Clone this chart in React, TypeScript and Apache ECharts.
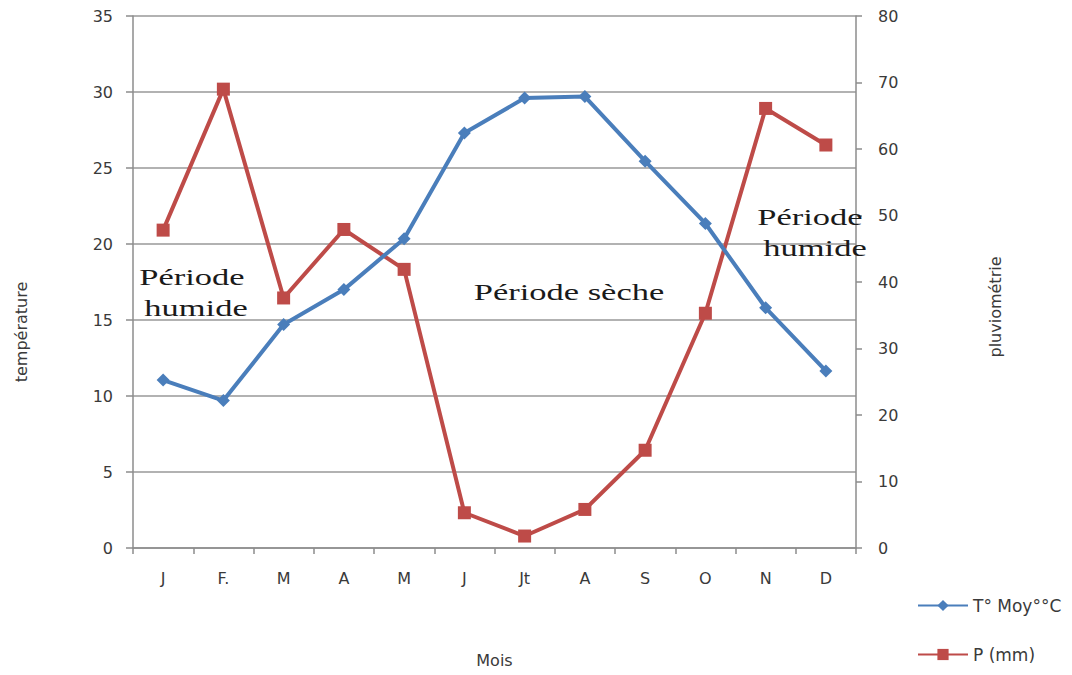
import React, { useEffect, useRef } from "react";
import * as echarts from "echarts";

const months = ["J", "F.", "M", "A", "M", "J", "Jt", "A", "S", "O", "N", "D"];
const temperature = [11.05, 9.7, 14.7, 17.0, 20.35, 27.3, 29.6, 29.7, 25.45, 21.35, 15.8, 11.65];
const precipitation = [47.8, 69.0, 37.6, 47.9, 41.9, 5.3, 1.8, 5.8, 14.7, 35.3, 66.1, 60.6];
const tempTicks = { min: 0, max: 35, interval: 5 };
const rainTicks = { min: 0, max: 80, interval: 10 };

const BLUE = "#4a7ebb";
const RED = "#be4b48";
const AXIS = "#8c8c8c";
const LABEL = "#3a3a3a";
const SANS = "'DejaVu Sans', 'Liberation Sans', sans-serif";
const SERIF = "'Liberation Serif', 'DejaVu Serif', serif";

export default function App() {
  const ref = useRef<HTMLDivElement>(null);
  useEffect(() => {
    if (!ref.current) return;
    const chart = echarts.init(ref.current, undefined, { renderer: "svg" });
    const annot = (x: number, y: number, text: string) => ({
      type: "text",
      x,
      y,
      z: 10,
      scaleX: 1.5,
      style: {
        text,
        fontSize: 23,
        fontFamily: SERIF,
        fill: "#1a1a1a",
        align: "center",
        verticalAlign: "middle",
      },
    });
    chart.setOption({
      animation: false,
      backgroundColor: "#ffffff",
      grid: { left: 133, right: 216, top: 16, bottom: 127, containLabel: false },
      legend: {
        orient: "vertical",
        left: 912,
        top: 592,
        itemGap: 32,
        itemWidth: 50,
        itemHeight: 14,
        textStyle: { fontFamily: SANS, fontSize: 17, color: LABEL },
        data: ["T° Moy°°C", "P (mm)"],
      },
      xAxis: {
        type: "category",
        data: months,
        boundaryGap: true,
        name: "Mois",
        nameLocation: "middle",
        nameGap: 104,
        nameTextStyle: { fontFamily: SANS, fontSize: 16, color: LABEL },
        axisLine: { lineStyle: { color: AXIS, width: 1.5 } },
        axisTick: { show: true, length: 6, lineStyle: { color: AXIS, width: 1.5 } },
        axisLabel: { fontFamily: SANS, fontSize: 16, color: LABEL, margin: 22 },
        splitLine: { show: false },
      },
      yAxis: [
        {
          type: "value",
          min: tempTicks.min,
          max: tempTicks.max,
          interval: tempTicks.interval,
          name: "température",
          nameLocation: "middle",
          nameGap: 104,
          nameRotate: 90,
          nameTextStyle: { fontFamily: SANS, fontSize: 16, color: LABEL, padding: [0, 100, 0, 0] },
          axisLine: { show: true, lineStyle: { color: AXIS, width: 1.5 } },
          axisTick: { show: true, length: 7, lineStyle: { color: AXIS, width: 1.5 } },
          axisLabel: { fontFamily: SANS, fontSize: 16, color: LABEL, margin: 20 },
          splitLine: { show: true, lineStyle: { color: "#999999", width: 1.5 } },
        },
        {
          type: "value",
          position: "right",
          min: rainTicks.min,
          max: rainTicks.max,
          interval: rainTicks.interval,
          name: "pluviométrie",
          nameLocation: "middle",
          nameGap: 131,
          nameRotate: 90,
          nameTextStyle: { fontFamily: SANS, fontSize: 16, color: LABEL, padding: [0, 50, 0, 0] },
          axisLine: { show: true, lineStyle: { color: AXIS, width: 1.5 } },
          axisTick: { show: true, length: 6, lineStyle: { color: AXIS, width: 1.5 } },
          axisLabel: { fontFamily: SANS, fontSize: 16, color: LABEL, margin: 22 },
          splitLine: { show: false },
        },
      ],
      series: [
        {
          name: "T° Moy°°C",
          type: "line",
          yAxisIndex: 0,
          data: temperature,
          symbol: "diamond",
          symbolSize: 13,
          lineStyle: { color: BLUE, width: 4 },
          itemStyle: { color: BLUE },
          z: 3,
        },
        {
          name: "P (mm)",
          type: "line",
          yAxisIndex: 1,
          data: precipitation,
          symbol: "rect",
          symbolSize: 13,
          lineStyle: { color: RED, width: 4 },
          itemStyle: { color: RED },
          z: 2,
        },
      ],
      graphic: [
        annot(192, 277, "Période"),
        annot(196, 308, "humide"),
        annot(569, 292, "Période sèche"),
        annot(810, 217, "Période"),
        annot(815, 248, "humide"),
      ],
    });
    return () => chart.dispose();
  }, []);
  return <div ref={ref} style={{ width: 1072, height: 675, margin: -8 }} />;
}
